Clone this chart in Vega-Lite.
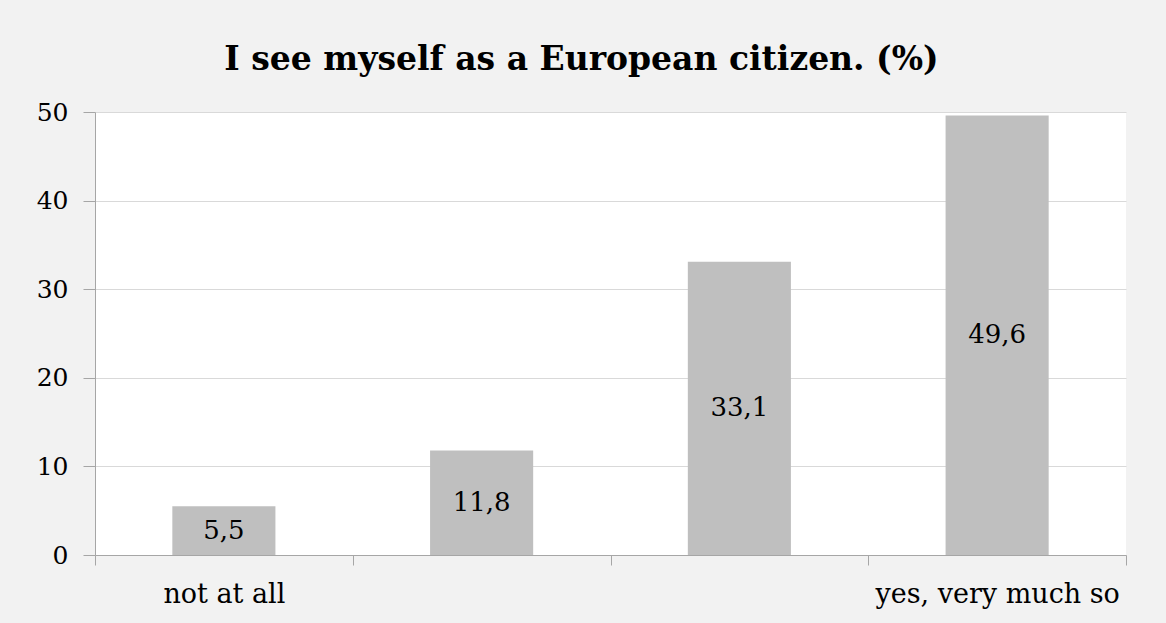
{
  "$schema": "https://vega.github.io/schema/vega-lite/v6.json",
  "autosize": "none",
  "width": 1031,
  "height": 443,
  "padding": {"left": 95, "top": 112, "right": 40, "bottom": 68},
  "background": "#f2f2f2",
  "title": {
    "text": "I see myself as a European citizen. (%)",
    "font": "DejaVu Serif",
    "fontSize": 33,
    "fontWeight": "bold",
    "color": "#000000",
    "anchor": "middle",
    "dx": -29,
    "baseline": "alphabetic",
    "offset": -3
  },
  "data": {
    "values": [
      {"cat": "not at all", "value": 5.5, "label": "5,5"},
      {"cat": "2", "value": 11.8, "label": "11,8"},
      {"cat": "3", "value": 33.1, "label": "33,1"},
      {"cat": "yes, very much so", "value": 49.6, "label": "49,6"}
    ]
  },
  "encoding": {
    "x": {
      "field": "cat",
      "type": "nominal",
      "sort": null,
      "scale": {"paddingInner": 0, "paddingOuter": 0},
      "axis": {
        "title": null,
        "labelAngle": 0,
        "tickBand": "extent",
        "labelExpr": "datum.value == 'not at all' || datum.value == 'yes, very much so' ? datum.value : ''",
        "labelFont": "DejaVu Serif",
        "labelFontSize": 27,
        "labelLimit": 400,
        "labelColor": "#000000",
        "labelPadding": 16,
        "tickSize": 10,
        "tickColor": "#a6a6a6",
        "domainColor": "#a6a6a6",
        "grid": false
      }
    }
  },
  "layer": [
    {
      "mark": {"type": "bar", "color": "#bfbfbf", "width": {"band": 0.4}},
      "encoding": {
        "y": {
          "field": "value",
          "type": "quantitative",
          "scale": {"domain": [0, 50]},
          "axis": {
            "title": null,
            "values": [0, 10, 20, 30, 40, 50],
            "labelFont": "DejaVu Serif",
            "labelFontSize": 25,
            "labelColor": "#000000",
            "labelPadding": 15,
            "tickSize": 12,
            "tickColor": "#a6a6a6",
            "domainColor": "#a6a6a6",
            "gridColor": "#d9d9d9",
            "gridWidth": 1
          }
        }
      }
    },
    {
      "transform": [{"calculate": "datum.value / 2", "as": "mid"}],
      "mark": {"type": "text", "font": "DejaVu Serif", "fontSize": 26, "color": "#000000", "baseline": "middle"},
      "encoding": {
        "y": {"field": "mid", "type": "quantitative"},
        "text": {"field": "label"}
      }
    }
  ],
  "config": {
    "view": {"fill": "#ffffff", "stroke": null}
  }
}
